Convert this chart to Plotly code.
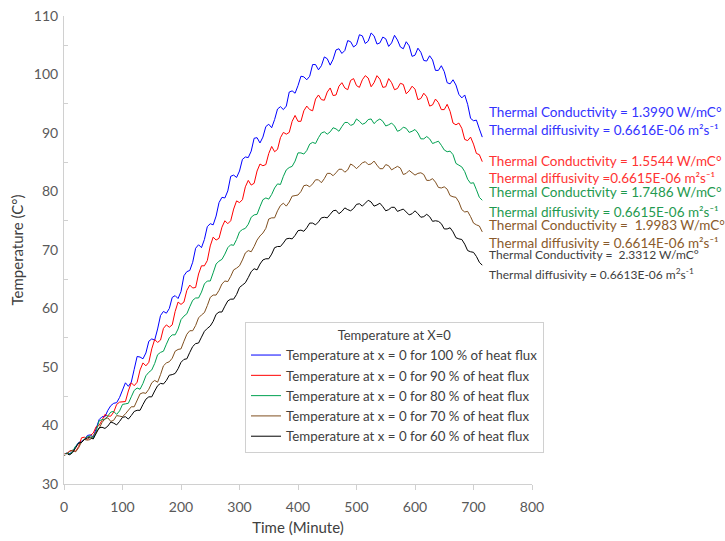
import plotly.graph_objects as go

time_min = list(range(0, 720, 5))

temp_100 = [35.0, 35.3, 35.2, 35.6, 36.4, 37.1, 37.3, 37.6, 38.3, 38.4,
            38.0, 39.4, 41.0, 41.5, 41.5, 42.6, 43.4, 43.8, 43.9, 44.8,
            46.2, 47.3, 46.7, 47.4, 49.6, 51.8, 51.7, 51.4, 52.4, 54.4,
            54.8, 54.6, 56.5, 58.8, 59.5, 59.2, 60.0, 61.9, 62.2, 61.7,
            62.9, 65.6, 66.3, 66.5, 67.9, 70.3, 70.9, 70.4, 71.8, 74.0,
            74.5, 74.3, 75.8, 78.1, 79.0, 78.9, 80.1, 82.6, 82.8, 82.4,
            83.5, 85.5, 85.9, 85.8, 86.9, 89.1, 89.2, 88.3, 89.3, 91.1,
            91.5, 90.9, 92.3, 94.1, 94.5, 94.0, 94.6, 97.0, 97.2, 96.8,
            98.1, 99.7, 99.6, 99.1, 99.7, 101.7, 101.7, 100.8, 101.5, 103.0,
            102.7, 101.6, 102.6, 104.2, 104.4, 103.6, 104.1, 105.8, 105.6, 104.7,
            105.1, 106.8, 106.6, 105.3, 105.7, 107.1, 106.6, 105.2, 105.4, 106.4,
            106.1, 104.8, 105.4, 106.7, 105.9, 104.7, 104.4, 105.6, 104.9, 103.1,
            103.3, 104.5, 103.8, 102.4, 102.3, 103.2, 102.5, 100.7, 100.7, 101.5,
            100.5, 98.6, 98.4, 99.1, 98.2, 96.6, 96.0, 96.5, 94.9, 92.5,
            92.1, 92.2, 90.7, 89.3]

temp_90 = [35.1, 35.2, 35.7, 35.7, 35.6, 36.4, 37.9, 38.0, 37.6, 38.3,
           38.7, 39.8, 40.0, 40.9, 41.9, 41.6, 41.6, 42.3, 43.6, 44.0,
           44.0, 44.1, 45.9, 47.3, 46.8, 47.4, 49.5, 50.7, 50.2, 50.8,
           53.1, 54.7, 54.2, 54.6, 56.6, 57.2, 56.8, 57.2, 59.5, 61.1,
           60.7, 61.1, 63.1, 64.0, 63.5, 63.6, 65.9, 67.3, 67.3, 68.2,
           70.7, 72.2, 71.7, 72.0, 73.9, 75.0, 74.5, 75.0, 77.0, 78.4,
           78.1, 78.6, 80.8, 81.9, 81.1, 81.4, 83.5, 84.7, 84.4, 84.6,
           86.5, 87.7, 86.8, 87.2, 89.2, 90.1, 89.8, 90.1, 92.0, 93.0,
           92.0, 92.0, 93.8, 94.6, 94.0, 93.8, 95.8, 96.5, 95.7, 95.6,
           97.0, 97.7, 96.4, 96.5, 98.0, 98.6, 97.7, 97.4, 99.0, 99.3,
           98.1, 97.8, 99.1, 99.8, 99.4, 97.9, 98.6, 99.8, 99.2, 97.8,
           97.9, 99.3, 98.6, 97.4, 97.6, 98.5, 98.3, 96.7, 97.2, 98.0,
           97.5, 95.7, 95.9, 96.8, 96.2, 94.6, 94.8, 95.8, 95.2, 94.0,
           94.0, 94.9, 93.7, 91.7, 91.4, 91.7, 90.8, 88.9, 88.7, 89.3,
           88.1, 86.5, 86.3, 85.1]

temp_80 = [35.0, 35.3, 35.1, 35.6, 36.5, 37.0, 37.1, 37.7, 38.1, 38.2,
           37.8, 39.0, 40.8, 41.0, 41.0, 41.7, 42.3, 42.4, 41.9, 42.5,
           43.6, 43.7, 43.8, 44.9, 46.0, 46.4, 46.2, 47.2, 48.5, 49.1,
           49.5, 50.6, 52.1, 52.5, 52.7, 53.9, 55.0, 55.5, 55.5, 56.5,
           58.1, 58.7, 59.1, 60.3, 61.4, 61.8, 61.8, 62.8, 64.2, 64.7,
           64.7, 66.1, 67.6, 68.1, 68.4, 69.3, 70.4, 70.9, 70.8, 71.8,
           73.1, 73.5, 73.7, 74.4, 75.6, 76.0, 76.1, 77.4, 78.6, 78.9,
           78.7, 79.5, 80.6, 81.3, 81.2, 82.6, 83.7, 84.1, 84.3, 85.2,
           86.6, 86.6, 86.4, 87.0, 88.1, 88.4, 88.2, 89.2, 90.0, 90.2,
           89.8, 90.2, 90.9, 90.7, 90.3, 91.1, 91.8, 91.8, 91.3, 91.5,
           92.4, 92.0, 91.5, 91.7, 92.3, 92.4, 91.6, 92.1, 92.4, 92.0,
           91.2, 91.4, 91.7, 91.2, 90.3, 90.5, 91.0, 90.8, 90.1, 90.3,
           90.6, 90.0, 89.0, 89.0, 89.4, 89.0, 88.2, 88.4, 88.6, 87.9,
           87.1, 86.8, 86.9, 86.3, 84.8, 84.5, 84.2, 83.4, 82.1, 81.4,
           81.5, 80.3, 79.0, 78.5]

temp_70 = [34.9, 35.1, 35.6, 35.8, 35.5, 36.2, 37.2, 37.6, 37.5, 37.6,
           38.3, 39.0, 39.5, 40.5, 41.2, 41.3, 40.7, 40.9, 41.7, 41.6,
           41.5, 42.0, 42.6, 43.2, 43.2, 44.3, 45.4, 45.6, 45.5, 46.2,
           47.3, 47.7, 47.4, 48.7, 50.2, 50.7, 50.9, 51.5, 52.7, 53.0,
           53.1, 54.4, 55.6, 56.2, 56.2, 57.1, 58.4, 58.9, 59.3, 60.5,
           61.9, 62.3, 62.3, 63.1, 64.2, 64.7, 64.6, 65.5, 66.6, 66.9,
           67.3, 68.3, 69.5, 69.9, 69.7, 70.6, 71.7, 72.4, 72.9, 73.7,
           75.3, 75.5, 75.5, 76.7, 77.6, 78.0, 77.5, 78.2, 79.2, 79.3,
           79.4, 80.0, 81.0, 81.1, 80.8, 81.3, 82.0, 82.0, 81.5, 82.2,
           83.1, 83.1, 82.7, 83.2, 83.8, 83.8, 83.3, 83.7, 84.7, 84.4,
           83.9, 84.4, 84.9, 85.1, 84.6, 84.7, 85.2, 84.5, 83.9, 83.9,
           84.6, 84.4, 83.7, 84.0, 84.3, 84.0, 82.9, 83.1, 83.6, 83.2,
           82.8, 83.1, 83.2, 82.9, 81.9, 81.9, 82.2, 81.6, 80.7, 80.6,
           80.8, 80.4, 79.3, 79.1, 79.0, 78.2, 76.9, 76.5, 76.6, 75.7,
           74.6, 74.3, 74.1, 73.1]

temp_60 = [35.0, 35.1, 35.0, 35.4, 36.2, 37.0, 37.1, 37.6, 37.9, 37.9,
           37.7, 38.6, 39.6, 39.7, 39.5, 39.9, 40.6, 40.4, 40.1, 40.7,
           41.4, 41.5, 41.1, 41.7, 42.4, 42.6, 42.6, 43.6, 44.5, 44.9,
           44.9, 45.9, 46.8, 47.2, 47.1, 47.7, 48.6, 48.7, 48.9, 49.7,
           50.8, 51.3, 51.4, 52.5, 53.5, 54.0, 54.1, 55.1, 56.1, 56.6,
           57.0, 57.8, 59.0, 59.4, 59.4, 60.4, 61.3, 61.6, 61.6, 62.4,
           63.6, 64.0, 64.4, 65.3, 66.3, 66.8, 66.6, 67.6, 68.3, 68.5,
           68.5, 69.3, 70.4, 70.6, 70.6, 71.2, 71.9, 72.0, 71.9, 72.5,
           73.3, 73.4, 73.2, 73.8, 74.6, 74.6, 74.3, 74.8, 75.5, 75.6,
           75.5, 76.1, 76.7, 76.8, 76.2, 76.6, 77.2, 76.9, 76.7, 77.1,
           77.8, 77.9, 77.5, 78.0, 78.5, 78.2, 77.5, 77.7, 78.0, 77.4,
           76.7, 76.9, 77.3, 77.3, 76.6, 76.8, 77.0, 76.5, 76.0, 76.2,
           76.7, 76.2, 75.6, 75.7, 76.1, 75.7, 74.9, 75.0, 74.9, 74.5,
           73.6, 73.6, 73.8, 73.1, 72.1, 71.9, 71.8, 71.0, 69.9, 69.7,
           69.6, 68.9, 67.9, 67.4]

series_names = [
    "Temperature at x = 0 for 100 % of heat flux",
    "Temperature at x = 0 for 90 % of heat flux",
    "Temperature at x = 0 for 80 % of heat flux",
    "Temperature at x = 0 for 70 % of heat flux",
    "Temperature at x = 0 for 60 % of heat flux",
]
series_values = [temp_100, temp_90, temp_80, temp_70, temp_60]
line_colors = ["#0000ff", "#ff0000", "#00a050", "#7f4f1f", "#000000"]

label_lines = [
    "Thermal Conductivity = 1.3990 W/mC°",
    "Thermal diffusivity = 0.6616E-06 m²s⁻¹",
    "Thermal Conductivity = 1.5544 W/mC°",
    "Thermal diffusivity =0.6615E-06 m²s⁻¹",
    "Thermal Conductivity = 1.7486 W/mC°",
    "Thermal diffusivity = 0.6615E-06 m²s⁻¹",
    "Thermal Conductivity =  1.9983 W/mC°",
    "Thermal diffusivity = 0.6614E-06 m²s⁻¹",
    "Thermal Conductivity =  2.3312 W/mC°",
    "Thermal diffusivity = 0.6613E-06 m<sup>2</sup>s<sup>-1</sup>",
]
label_colors = ["#3333ff", "#3333ff", "#ff3333", "#ff3333", "#1f9a50", "#1f9a50",
                "#8a5a2b", "#8a5a2b", "#404040", "#404040"]
label_ypix = [112, 130, 161, 178, 192, 212, 225, 243, 254, 274]
label_sizes = [13.5, 13.5, 13.5, 13.5, 13.5, 13.5, 13.5, 13.5, 12, 12]

FONT = "Lato, 'Open Sans', sans-serif"
L, R, T, B = 64, 193, 16, 57
W, H = 725, 541
PW, PH = W - L - R, H - T - B

fig = go.Figure()
for name, vals, col in zip(series_names, series_values, line_colors):
    fig.add_trace(go.Scatter(x=time_min, y=vals, mode="lines", name=name,
                             line=dict(color=col, width=1)))

for txt, col, yp, fs in zip(label_lines, label_colors, label_ypix, label_sizes):
    fig.add_annotation(x=(487 - L) / PW, y=(H - B - yp) / PH, xref="paper", yref="paper",
                       text=txt, showarrow=False, xanchor="left", yanchor="middle",
                       font=dict(family=FONT, size=fs, color=col))

fig.update_layout(
    width=W, height=H,
    margin=dict(l=L, r=R, t=T, b=B, autoexpand=False),
    paper_bgcolor="white", plot_bgcolor="white",
    font=dict(family=FONT, size=13, color="#595959"),
    legend=dict(
        title=dict(text="Temperature at X=0", side="top center",
                   font=dict(family=FONT, size=13, color="#404040")),
        x=(245 - L) / PW, y=(H - B - 322) / PH, xanchor="left", yanchor="top",
        bgcolor="white", bordercolor="#d0d0d0", borderwidth=1,
        font=dict(family=FONT, size=13.3, color="#404040"),
        itemwidth=30, tracegroupgap=0,
    ),
    showlegend=True,
)
fig.update_xaxes(range=[0, 800], dtick=100, showgrid=False, zeroline=False, automargin=False,
                 showline=True, linecolor="#d0d0d0", linewidth=1,
                 ticks="outside", ticklen=5, tickcolor="#d0d0d0", ticklabelstandoff=5,
                 tickfont=dict(size=14, color="#595959"),
                 title=dict(text="Time (Minute)", font=dict(size=15, color="#404040"), standoff=8))
fig.update_yaxes(range=[30, 110], dtick=10, showgrid=False, zeroline=False, automargin=False,
                 showline=True, linecolor="#d0d0d0", linewidth=1,
                 ticks="", minor=dict(dtick=5, ticks="inside", ticklen=4, tickcolor="#d0d0d0", showgrid=False),
                 tickfont=dict(size=14, color="#595959"), ticklabelstandoff=2,
                 title=dict(text="Temperature (C°)", font=dict(size=15, color="#404040"), standoff=6))

fig.write_html("out.html", config={"displayModeBar": False},
               post_script="document.body.style.margin='0';")
